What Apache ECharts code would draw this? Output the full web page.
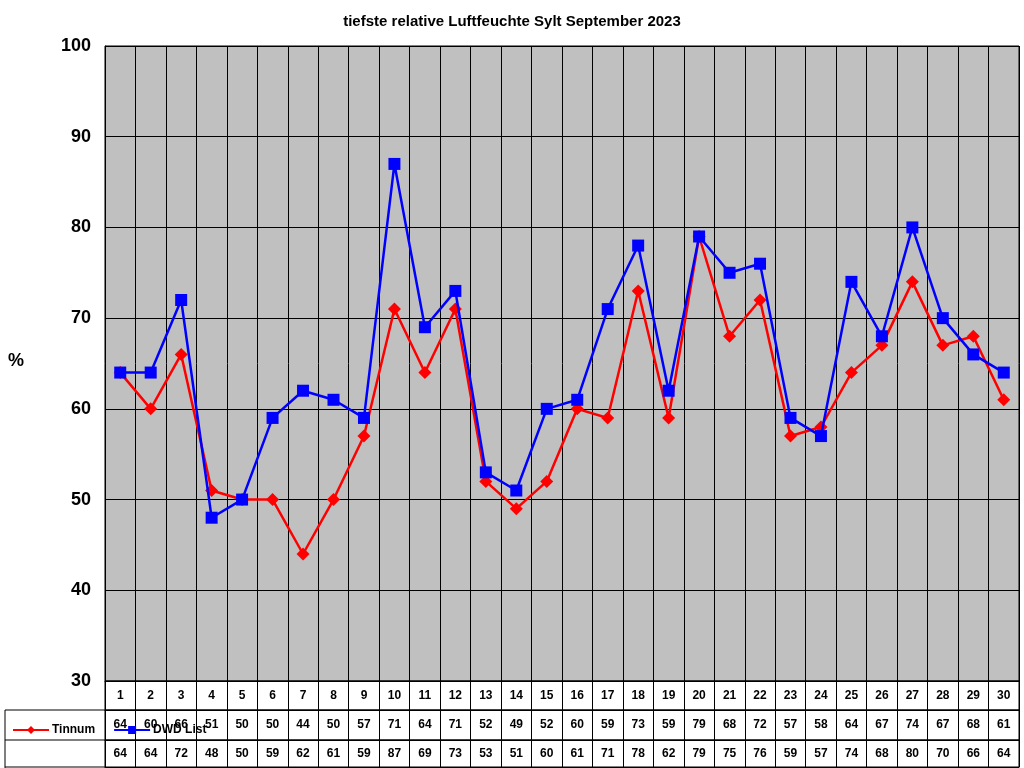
<!DOCTYPE html><html><head><meta charset="utf-8">
<script src="https://cdn.jsdelivr.net/npm/echarts@6/dist/echarts.min.js"></script>
<style>html,body{margin:0;background:#fff}#c{width:1024px;height:768px}</style></head><body><div id="c"></div>
<script>
const days = Array.from({length:30},(_,i)=>String(i+1));
const tinnum = [64,60,66,51,50,50,44,50,57,71,64,71,52,49,52,60,59,73,59,79,68,72,57,58,64,67,74,67,68,61];
const dwd = [64,64,72,48,50,59,62,61,59,87,69,73,53,51,60,61,71,78,62,79,75,76,59,57,74,68,80,70,66,64];
const yTicks = [30,40,50,60,70,80,90,100];
const F = 'Arial, "Liberation Sans", sans-serif';
const c = echarts.init(document.getElementById('c'));
const L = 105, R = 5;
const rows = [{top:681,h:29,d:days},{top:710,h:30,d:tinnum.map(String)},{top:740,h:27,d:dwd.map(String)}];
const grids = [{left:L,right:R,top:46,height:635,show:true,backgroundColor:'#c0c0c0',borderColor:'#000',borderWidth:1}];
const xAxes = [{type:'category',data:days,gridIndex:0,axisLabel:{show:false},axisTick:{show:false},axisLine:{lineStyle:{color:'#000'}},splitLine:{show:true,lineStyle:{color:'#000',width:1}}}];
const yAxes = [{type:'value',gridIndex:0,min:30,max:100,interval:10,axisLine:{show:true,lineStyle:{color:'#000'}},axisTick:{show:false},splitLine:{lineStyle:{color:'#000',width:1}},axisLabel:{fontFamily:F,fontWeight:'bold',fontSize:18,color:'#000',margin:14}}];
rows.forEach((r,i)=>{
  grids.push({left:L,right:R,top:r.top,height:r.h,show:true,borderColor:'#000',borderWidth:1});
  xAxes.push({type:'category',data:r.d,gridIndex:i+1,axisTick:{show:false},axisLine:{lineStyle:{color:'#000'}},splitLine:{show:true,lineStyle:{color:'#000'}},axisLabel:{interval:0,margin:-(r.h/2+6),fontFamily:F,fontWeight:'bold',fontSize:12,color:'#000'}});
  yAxes.push({type:'value',gridIndex:i+1,show:false});
});
c.setOption({
  animation:false,
  title:{text:'tiefste relative Luftfeuchte Sylt September 2023',left:'center',top:9,textStyle:{fontFamily:F,fontWeight:'bold',fontSize:15,color:'#000'}},
  grid:grids,xAxis:xAxes,yAxis:yAxes,
  legend:{left:7,top:719,orient:'vertical',itemGap:18,itemWidth:36,itemHeight:10,textStyle:{fontFamily:F,fontWeight:'bold',fontSize:12,color:'#000',padding:[0,0,0,-2]},data:['Tinnum','DWD List']},
  graphic:[
    {type:'text',left:8,top:352,style:{text:'%',font:'bold 18px '+F,fill:'#000'}},
    {type:'line',shape:{x1:5,y1:710,x2:L,y2:710},style:{stroke:'#000'}},
    {type:'line',shape:{x1:5,y1:740,x2:L,y2:740},style:{stroke:'#000'}},
    {type:'line',shape:{x1:5,y1:710,x2:5,y2:768},style:{stroke:'#000'}},
    {type:'line',shape:{x1:5,y1:767,x2:L,y2:767},style:{stroke:'#000'}}
  ],
  series:[
    {name:'Tinnum',type:'line',data:tinnum,symbol:'diamond',symbolSize:13,itemStyle:{color:'#ff0000'},lineStyle:{color:'#ff0000',width:2.5},z:3},
    {name:'DWD List',type:'line',data:dwd,symbol:'rect',symbolSize:12,itemStyle:{color:'#0000ff'},lineStyle:{color:'#0000ff',width:2.5},z:4}
  ]
});
</script></body></html>
